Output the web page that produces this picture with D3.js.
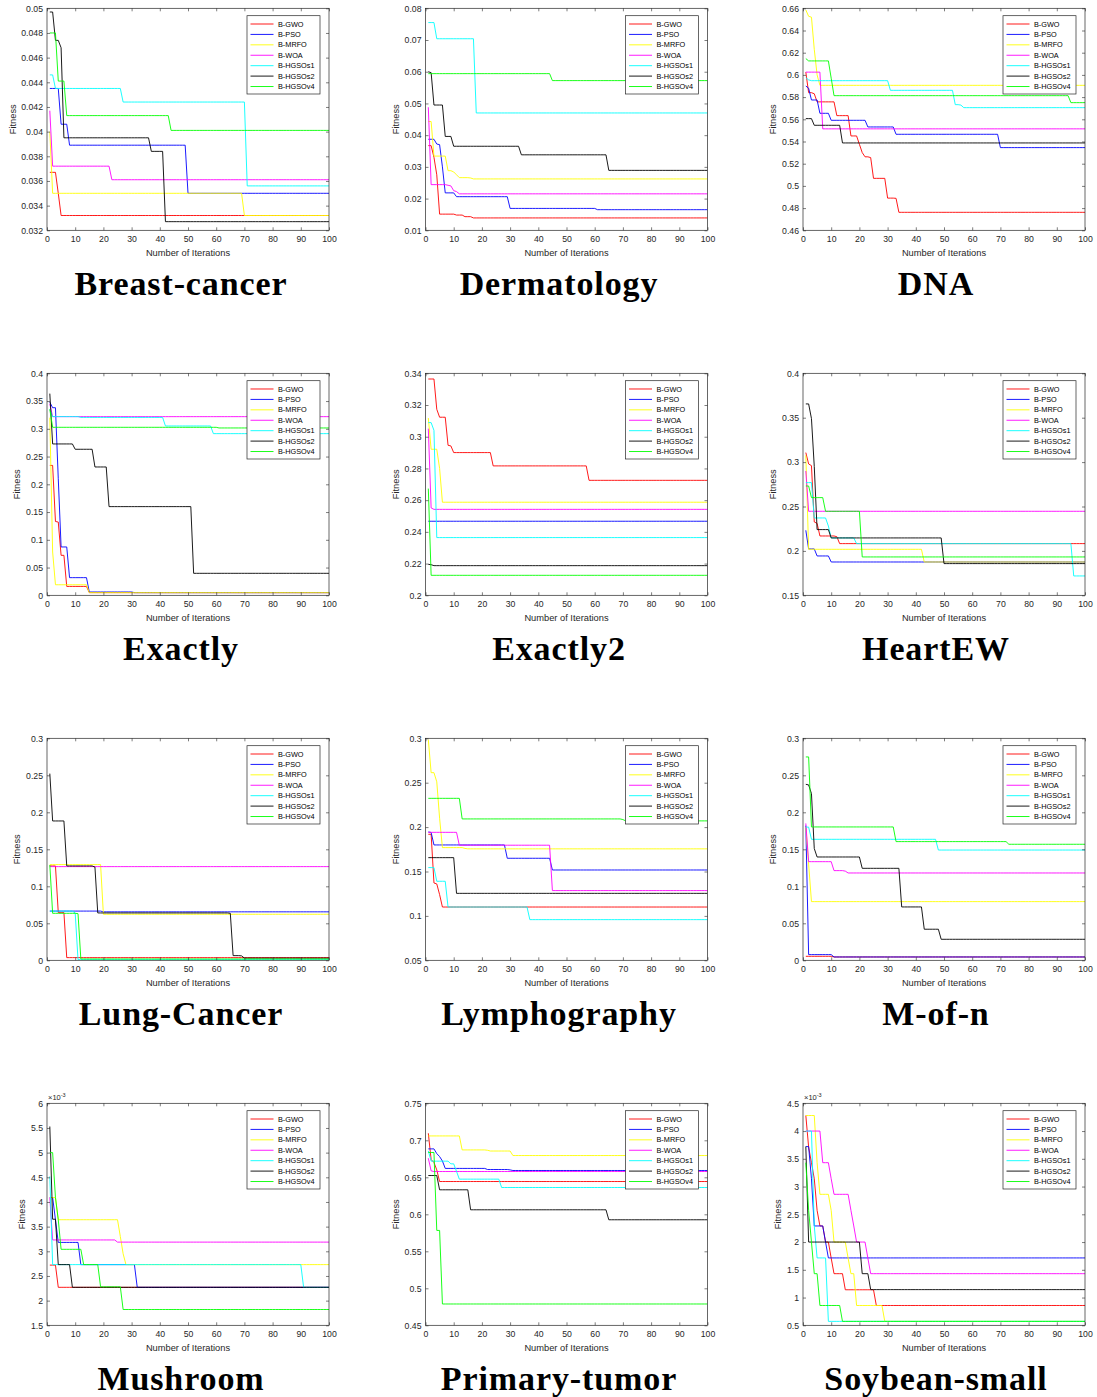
<!DOCTYPE html>
<html>
<head>
<meta charset="utf-8">
<script src="https://cdn.jsdelivr.net/npm/d3@7"></script>
<style>
  html, body { margin: 0; padding: 0; background: #ffffff; }
  svg { display: block; }
</style>
</head>
<body>
<svg id="chart" width="1097" height="1397"></svg>
<script>
// ---------- data ----------
const algorithms = ["B-GWO", "B-PSO", "B-MRFO", "B-WOA", "B-HGSOs1", "B-HGSOs2", "B-HGSOv4"];
const lineColors = ["#ff0000", "#0000ff", "#ffff00", "#ff00ff", "#00ffff", "#000000", "#00ff00"];
const datasetNames = ["Breast-cancer", "Dermatology", "DNA", "Exactly", "Exactly2", "HeartEW",
                      "Lung-Cancer", "Lymphography", "M-of-n", "Mushroom", "Primary-tumor", "Soybean-small"];
const maxIteration = 100;
const xTicks = [0, 10, 20, 30, 40, 50, 60, 70, 80, 90, 100];

// y-axis ticks of each dataset (first and last give the axis range)
const breastCancerTicks = [0.032, 0.034, 0.036, 0.038, 0.04, 0.042, 0.044, 0.046, 0.048, 0.05];
const dermatologyTicks  = [0.01, 0.02, 0.03, 0.04, 0.05, 0.06, 0.07, 0.08];
const dnaTicks          = [0.46, 0.48, 0.5, 0.52, 0.54, 0.56, 0.58, 0.6, 0.62, 0.64, 0.66];
const exactlyTicks      = [0, 0.05, 0.1, 0.15, 0.2, 0.25, 0.3, 0.35, 0.4];
const exactly2Ticks     = [0.2, 0.22, 0.24, 0.26, 0.28, 0.3, 0.32, 0.34];
const heartTicks        = [0.15, 0.2, 0.25, 0.3, 0.35, 0.4];
const lungTicks         = [0, 0.05, 0.1, 0.15, 0.2, 0.25, 0.3];
const lymphTicks        = [0.05, 0.1, 0.15, 0.2, 0.25, 0.3];
const mOfNTicks         = [0, 0.05, 0.1, 0.15, 0.2, 0.25, 0.3];
const mushroomTicks     = [1.5e-3, 2e-3, 2.5e-3, 3e-3, 3.5e-3, 4e-3, 4.5e-3, 5e-3, 5.5e-3, 6e-3];
const primaryTicks      = [0.45, 0.5, 0.55, 0.6, 0.65, 0.7, 0.75];
const soybeanTicks      = [0.5e-3, 1e-3, 1.5e-3, 2e-3, 2.5e-3, 3e-3, 3.5e-3, 4e-3, 4.5e-3];
// power-of-ten multiplier printed above the y axis (0 = none)
const axisExponents = [0, 0, 0, 0, 0, 0, 0, 0, 0, -3, 0, -3];

// best fitness per iteration, recorded as [iteration, fitness] at each change;
// series order follows `algorithms`
const breastCancer = [
  [[1,0.0367],[3,0.0367],[4,0.0350],[5,0.0332]],
  [[1,0.0435],[4,0.0435],[5,0.0406],[7,0.0406],[8,0.0389],[49,0.0389],[50,0.0350]],
  [[1,0.0400],[2,0.0350],[69,0.0350],[70,0.0332]],
  [[1,0.0417],[2,0.0372],[22,0.0372],[23,0.0361]],
  [[1,0.0446],[2,0.0446],[3,0.0435],[26,0.0435],[27,0.0424],[70,0.0424],[71,0.0356]],
  [[1,0.0497],[2,0.0497],[3,0.0474],[4,0.0474],[5,0.0468],[6,0.0395],[36,0.0395],[37,0.0384],[41,0.0384],[42,0.0327]],
  [[1,0.0480],[3,0.0480],[4,0.0441],[6,0.0441],[7,0.0413],[43,0.0413],[44,0.0401]]
];
const dermatology = [
  [[1,0.0367],[2,0.0367],[3,0.0330],[4,0.0275],[5,0.0151],[10,0.0151],[11,0.0148],[13,0.0148],[14,0.0143],[16,0.0143],[17,0.0139]],
  [[1,0.0387],[3,0.0387],[4,0.0372],[5,0.0370],[6,0.0300],[7,0.0218],[10,0.0218],[11,0.0206],[29,0.0206],[30,0.0169],[60,0.0169],[61,0.0165]],
  [[1,0.0443],[2,0.0443],[3,0.0334],[7,0.0334],[8,0.0288],[9,0.0288],[10,0.0284],[11,0.0275],[12,0.0266],[16,0.0265],[17,0.0262]],
  [[1,0.0488],[2,0.0244],[8,0.0242],[9,0.0240],[10,0.0225],[11,0.0222],[12,0.0215]],
  [[1,0.0755],[3,0.0755],[4,0.0704],[17,0.0704],[18,0.0470]],
  [[1,0.0600],[2,0.0597],[3,0.0495],[6,0.0495],[7,0.0396],[9,0.0396],[10,0.0365],[33,0.0365],[34,0.0338],[64,0.0338],[65,0.0289]],
  [[1,0.0594],[44,0.0594],[45,0.0572]]
];
const dna = [
  [[1,0.6025],[2,0.5840],[4,0.5830],[5,0.5757],[11,0.5757],[12,0.5633],[16,0.5633],[17,0.5450],[19,0.5450],[20,0.5375],[21,0.5300],[22,0.5262],[24,0.5255],[25,0.5068],[29,0.5068],[30,0.4890],[33,0.4888],[34,0.4762]],
  [[1,0.5900],[2,0.5880],[3,0.5774],[5,0.5774],[6,0.5654],[9,0.5654],[10,0.5591],[22,0.5591],[23,0.5531],[32,0.5531],[33,0.5465],[69,0.5465],[70,0.5345]],
  [[1,0.6585],[2,0.6528],[3,0.6520],[4,0.6230],[5,0.6000],[6,0.5906]],
  [[1,0.6025],[6,0.6025],[7,0.5514]],
  [[1,0.5975],[2,0.5955],[3,0.5948],[30,0.5948],[31,0.5861],[53,0.5861],[54,0.5732],[56,0.5728],[57,0.5705]],
  [[1,0.5606],[3,0.5606],[4,0.5546],[13,0.5546],[14,0.5387]],
  [[1,0.6147],[2,0.6126],[9,0.6126],[10,0.5970],[11,0.5813],[94,0.5813],[95,0.5750]]
];
const exactly = [
  [[1,0.2340],[2,0.2340],[3,0.1330],[4,0.1320],[5,0.0720],[6,0.0720],[7,0.0160],[14,0.0160],[15,0.0048]],
  [[1,0.3480],[2,0.3380],[3,0.3380],[4,0.2100],[5,0.0871],[7,0.0871],[8,0.0318],[14,0.0318],[15,0.0060],[30,0.0060],[31,0.0048]],
  [[1,0.3200],[2,0.0780],[3,0.0190],[14,0.0190],[15,0.0048]],
  [[1,0.3450],[2,0.3219]],
  [[1,0.3350],[2,0.3220],[11,0.3220],[12,0.3205],[41,0.3205],[42,0.3051],[58,0.3051],[59,0.2913]],
  [[1,0.3634],[2,0.2727],[9,0.2727],[10,0.2631],[16,0.2631],[17,0.2312],[21,0.2312],[22,0.1598],[51,0.1598],[52,0.0396]],
  [[1,0.3350],[2,0.3027],[60,0.3027],[61,0.3015]]
];
const exactly2 = [
  [[1,0.3364],[3,0.3364],[4,0.3173],[5,0.3123],[7,0.3123],[8,0.2946],[9,0.2942],[10,0.2900],[23,0.2900],[24,0.2816],[57,0.2816],[58,0.2725]],
  [[1,0.2467]],
  [[1,0.3118],[2,0.2921],[4,0.2921],[5,0.2800],[6,0.2587]],
  [[1,0.3051],[2,0.2551],[3,0.2542]],
  [[1,0.3089],[2,0.3089],[3,0.3040],[4,0.2364]],
  [[1,0.2195],[2,0.2193],[3,0.2187]],
  [[1,0.2673],[2,0.2126]]
];
const heartEW = [
  [[1,0.3107],[2,0.2979],[3,0.2960],[4,0.2326],[5,0.2310],[6,0.2168],[12,0.2160],[13,0.2082]],
  [[1,0.2232],[2,0.2022],[4,0.2022],[5,0.1943],[9,0.1943],[10,0.1875]],
  [[1,0.3077],[2,0.2018],[42,0.2018],[43,0.1875]],
  [[1,0.2900],[2,0.2446]],
  [[1,0.2769],[3,0.2769],[4,0.2371],[8,0.2371],[9,0.2280],[10,0.2146],[18,0.2146],[19,0.2082],[95,0.2082],[96,0.1718]],
  [[1,0.3655],[2,0.3655],[3,0.3490],[4,0.2950],[5,0.2240],[9,0.2240],[10,0.2146],[49,0.2146],[50,0.1857]],
  [[1,0.2731],[2,0.2731],[3,0.2600],[7,0.2600],[8,0.2446],[20,0.2446],[21,0.1932]]
];
const lungCancer = [
  [[1,0.1275],[3,0.1275],[4,0.0644],[6,0.0644],[7,0.0036]],
  [[1,0.0665],[20,0.0655]],
  [[1,0.1293],[19,0.1293],[20,0.0622]],
  [[1,0.1266]],
  [[1,0.0665],[10,0.0640],[11,0.0009]],
  [[1,0.2523],[2,0.1883],[6,0.1883],[7,0.1275],[17,0.1260],[18,0.0640],[65,0.0635],[66,0.0063],[69,0.0060],[70,0.0030]],
  [[1,0.1288],[2,0.0635],[11,0.0630],[12,0.0018]]
];
const lymphography = [
  [[1,0.1919],[2,0.1919],[3,0.1371],[4,0.1360],[5,0.1240],[6,0.1100]],
  [[1,0.1945],[2,0.1940],[3,0.1799],[28,0.1799],[29,0.1649],[44,0.1649],[45,0.1517]],
  [[1,0.2985],[2,0.2613],[3,0.2613],[4,0.2510],[5,0.2100],[6,0.1769],[14,0.1760],[15,0.1755]],
  [[1,0.1941],[11,0.1941],[12,0.1796],[44,0.1796],[45,0.1285]],
  [[1,0.1544],[3,0.1544],[4,0.1390],[7,0.1390],[8,0.1100],[36,0.1100],[37,0.0958]],
  [[1,0.1656],[10,0.1656],[11,0.1254]],
  [[1,0.2324],[12,0.2324],[13,0.2092],[70,0.2085],[71,0.2070]]
];
const mOfN = [
  [[1,0.0054],[10,0.0054],[11,0.0045]],
  [[1,0.1820],[2,0.0077],[10,0.0077],[11,0.0045]],
  [[1,0.1800],[2,0.1300],[3,0.0793]],
  [[1,0.1850],[2,0.1333],[10,0.1333],[11,0.1212],[15,0.1205],[16,0.1180]],
  [[1,0.1800],[2,0.1800],[3,0.1635],[47,0.1635],[48,0.1490]],
  [[1,0.2378],[2,0.2370],[3,0.2252],[4,0.1510],[5,0.1396],[20,0.1396],[21,0.1243],[34,0.1243],[35,0.0721],[42,0.0721],[43,0.0420],[48,0.0420],[49,0.0284]],
  [[1,0.2748],[2,0.2748],[3,0.1802],[32,0.1802],[33,0.1604],[72,0.1604],[73,0.1568]]
];
const mushroom = [
  [[1,2.72e-3],[3,2.72e-3],[4,2.27e-3]],
  [[1,4.09e-3],[2,4.09e-3],[3,3.64e-3],[4,3.18e-3],[11,3.18e-3],[12,2.73e-3],[31,2.73e-3],[32,2.27e-3]],
  [[1,4.09e-3],[3,4.09e-3],[4,3.64e-3],[25,3.64e-3],[26,3.30e-3],[27,2.95e-3],[28,2.73e-3]],
  [[1,4.09e-3],[2,3.23e-3],[24,3.23e-3],[25,3.186e-3]],
  [[1,4.52e-3],[2,2.73e-3],[90,2.73e-3],[91,2.27e-3]],
  [[1,5.53e-3],[2,3.65e-3],[3,3.65e-3],[4,2.73e-3],[8,2.73e-3],[9,2.27e-3]],
  [[1,5.00e-3],[2,5.00e-3],[3,4.09e-3],[4,3.64e-3],[5,3.04e-3],[12,3.04e-3],[13,2.73e-3],[18,2.73e-3],[19,2.28e-3],[26,2.28e-3],[27,1.82e-3]]
];
const primaryTumor = [
  [[1,0.7095],[2,0.6740],[3,0.6700],[4,0.6600],[5,0.6443]],
  [[1,0.6884],[3,0.6884],[4,0.6820],[5,0.6780],[6,0.6720],[7,0.6620],[21,0.6620],[22,0.6605],[30,0.6600],[31,0.6592]],
  [[1,0.7059],[12,0.7059],[13,0.6870],[22,0.6865],[23,0.6855],[30,0.6855],[31,0.6794]],
  [[1,0.6758],[2,0.6587],[3,0.6578]],
  [[1,0.6857],[2,0.6718],[8,0.6718],[9,0.6682],[10,0.6682],[11,0.6580],[12,0.6475],[26,0.6475],[27,0.6362]],
  [[1,0.6524],[4,0.6524],[5,0.6331],[15,0.6331],[16,0.6061],[64,0.6061],[65,0.5926]],
  [[1,0.6835],[3,0.6835],[4,0.5782],[5,0.5782],[6,0.4788]]
];
const soybeanSmall = [
  [[1,4.28e-3],[2,3.71e-3],[3,3.43e-3],[4,3.14e-3],[5,2.57e-3],[6,2.29e-3],[8,2.00e-3],[10,1.71e-3],[11,1.43e-3],[14,1.43e-3],[15,1.14e-3],[25,1.14e-3],[26,0.857e-3]],
  [[1,3.72e-3],[2,3.72e-3],[3,3.14e-3],[4,2.29e-3],[7,2.29e-3],[8,2.00e-3],[9,1.714e-3]],
  [[1,4.28e-3],[4,4.28e-3],[5,3.43e-3],[6,2.86e-3],[9,2.86e-3],[10,2.57e-3],[11,2.00e-3],[15,2.00e-3],[16,1.71e-3],[17,1.43e-3],[18,1.43e-3],[19,0.857e-3],[28,0.857e-3],[29,0.571e-3]],
  [[1,4.00e-3],[6,4.00e-3],[7,3.43e-3],[9,3.43e-3],[10,3.14e-3],[11,2.86e-3],[16,2.86e-3],[17,2.57e-3],[18,2.29e-3],[19,2.00e-3],[22,2.00e-3],[23,1.71e-3],[24,1.43e-3]],
  [[1,4.00e-3],[3,4.00e-3],[4,2.29e-3],[5,1.714e-3],[8,1.714e-3],[9,0.571e-3]],
  [[1,3.72e-3],[2,2.00e-3],[20,2.00e-3],[21,1.43e-3],[23,1.43e-3],[24,1.143e-3]],
  [[1,3.43e-3],[2,2.57e-3],[3,2.00e-3],[4,1.43e-3],[5,1.43e-3],[6,0.857e-3],[13,0.857e-3],[14,0.571e-3]]
];

const datasetSeries = [breastCancer, dermatology, dna, exactly, exactly2, heartEW,
                       lungCancer, lymphography, mOfN, mushroom, primaryTumor, soybeanSmall];
const datasetTicks = [breastCancerTicks, dermatologyTicks, dnaTicks, exactlyTicks, exactly2Ticks, heartTicks,
                      lungTicks, lymphTicks, mOfNTicks, mushroomTicks, primaryTicks, soybeanTicks];

// ---------- layout ----------
const svg = d3.select("#chart");
svg.append("rect").attr("width", 1097).attr("height", 1397).attr("fill", "#ffffff");

const colLeft = [47, 425.5, 803];
const rowTop = [8.3, 373.3, 738.3, 1103.3];
const plotW = 282, plotH = 222;
const titleX = [181, 559, 936];
const axisColor = "#262626";
const sansFont = "'Liberation Sans', Arial, Helvetica, sans-serif";
const tickLen = 3;

// best-so-far value at every iteration, carried forward from the recorded changes
function expandSeries(changes) {
  const out = [];
  let k = 0;
  for (let it = 1; it <= maxIteration; it++) {
    while (k + 1 < changes.length && changes[k + 1][0] <= it) k++;
    out.push([it, changes[k][1]]);
  }
  return out;
}

function fmtTick(v, exp) {
  const scaled = exp ? v / Math.pow(10, exp) : v;
  return String(+scaled.toFixed(5));
}

datasetNames.forEach((name, idx) => {
  const col = idx % 3, row = Math.floor(idx / 3);
  const left = colLeft[col], top = rowTop[row];
  const ticks = datasetTicks[idx];
  const exp = axisExponents[idx];

  const x = d3.scaleLinear().domain([0, maxIteration]).range([0, plotW]);
  const y = d3.scaleLinear().domain([ticks[0], ticks[ticks.length - 1]]).range([plotH, 0]);

  const g = svg.append("g").attr("transform", `translate(${left},${top})`);

  // clip region for the curves
  const clipId = "clip" + idx;
  g.append("clipPath").attr("id", clipId)
    .append("rect").attr("width", plotW).attr("height", plotH);

  // curves
  const line = d3.line().x(d => x(d[0])).y(d => y(d[1]));
  const curves = g.append("g").attr("clip-path", `url(#${clipId})`);
  datasetSeries[idx].forEach((changes, s) => {
    curves.append("path")
      .datum(expandSeries(changes))
      .attr("d", line)
      .attr("fill", "none")
      .attr("stroke", lineColors[s])
      .attr("stroke-width", 0.9)
      .attr("stroke-linejoin", "round");
  });

  // axes with inward ticks on all four sides
  const styleAxis = sel => {
    sel.select(".domain").remove();
    sel.selectAll(".tick line").attr("stroke", axisColor).attr("stroke-width", 0.6);
    sel.selectAll(".tick text")
      .attr("fill", axisColor)
      .style("font-family", sansFont)
      .style("font-size", "8.7px");
  };

  const yAxis = g.append("g")
    .call(d3.axisLeft(y).tickValues(ticks).tickSizeInner(-tickLen).tickSizeOuter(0)
      .tickPadding(4).tickFormat(v => fmtTick(v, exp)))
    .call(styleAxis);
  g.append("g").attr("transform", `translate(${plotW},0)`)
    .call(d3.axisRight(y).tickValues(ticks).tickSizeInner(-tickLen).tickSizeOuter(0).tickFormat(""))
    .call(styleAxis);
  g.append("g").attr("transform", `translate(0,${plotH})`)
    .call(d3.axisBottom(x).tickValues(xTicks).tickSizeInner(-tickLen).tickSizeOuter(0)
      .tickPadding(6).tickFormat(d3.format("d")))
    .call(styleAxis);
  g.append("g")
    .call(d3.axisTop(x).tickValues(xTicks).tickSizeInner(-tickLen).tickSizeOuter(0).tickFormat(""))
    .call(styleAxis);

  g.append("rect")
    .attr("width", plotW).attr("height", plotH)
    .attr("fill", "none").attr("stroke", axisColor).attr("stroke-width", 0.7);

  // power-of-ten multiplier
  if (exp) {
    const t = g.append("text")
      .attr("x", 1).attr("y", -3)
      .attr("fill", axisColor)
      .style("font-family", sansFont).style("font-size", "7.5px")
      .text("\u00d710");
    t.append("tspan").attr("dy", -3).style("font-size", "5.5px").text(String(exp));
  }

  // axis labels
  let maxW = 0;
  yAxis.selectAll(".tick text").each(function () {
    maxW = Math.max(maxW, this.getComputedTextLength());
  });
  g.append("text")
    .attr("transform", `translate(${-4 - maxW - 9},${plotH / 2}) rotate(-90)`)
    .attr("text-anchor", "middle")
    .attr("dy", "0.35em")
    .attr("fill", axisColor)
    .style("font-family", sansFont).style("font-size", "9.3px")
    .text("Fitness");
  g.append("text")
    .attr("x", plotW / 2).attr("y", plotH + 25.7)
    .attr("text-anchor", "middle")
    .attr("fill", axisColor)
    .style("font-family", sansFont).style("font-size", "9.3px")
    .text("Number of Iterations");

  // legend
  const lgW = 73, lgH = 78.3;
  const lg = g.append("g").attr("transform", `translate(${plotW - 9 - lgW},${7.4})`);
  lg.append("rect").attr("width", lgW).attr("height", lgH)
    .attr("fill", "#ffffff").attr("stroke", axisColor).attr("stroke-width", 0.7);
  algorithms.forEach((a, s) => {
    const yy = 8.3 + s * 10.42;
    lg.append("line")
      .attr("x1", 3.5).attr("x2", 26.5).attr("y1", yy).attr("y2", yy)
      .attr("stroke", lineColors[s]).attr("stroke-width", 0.9);
    lg.append("text")
      .attr("x", 31).attr("y", yy).attr("dy", "0.35em")
      .attr("fill", "#000000")
      .style("font-family", sansFont).style("font-size", "7.3px")
      .text(a);
  });

  // dataset title
  svg.append("text")
    .attr("x", titleX[col]).attr("y", top + plotH + 64.5)
    .attr("text-anchor", "middle")
    .attr("fill", "#000000")
    .style("font-family", "'Liberation Serif', 'DejaVu Serif', serif")
    .style("font-weight", "bold")
    .style("font-size", "34px")
    .style("letter-spacing", "0.9px")
    .text(name);
});
</script>
</body>
</html>
